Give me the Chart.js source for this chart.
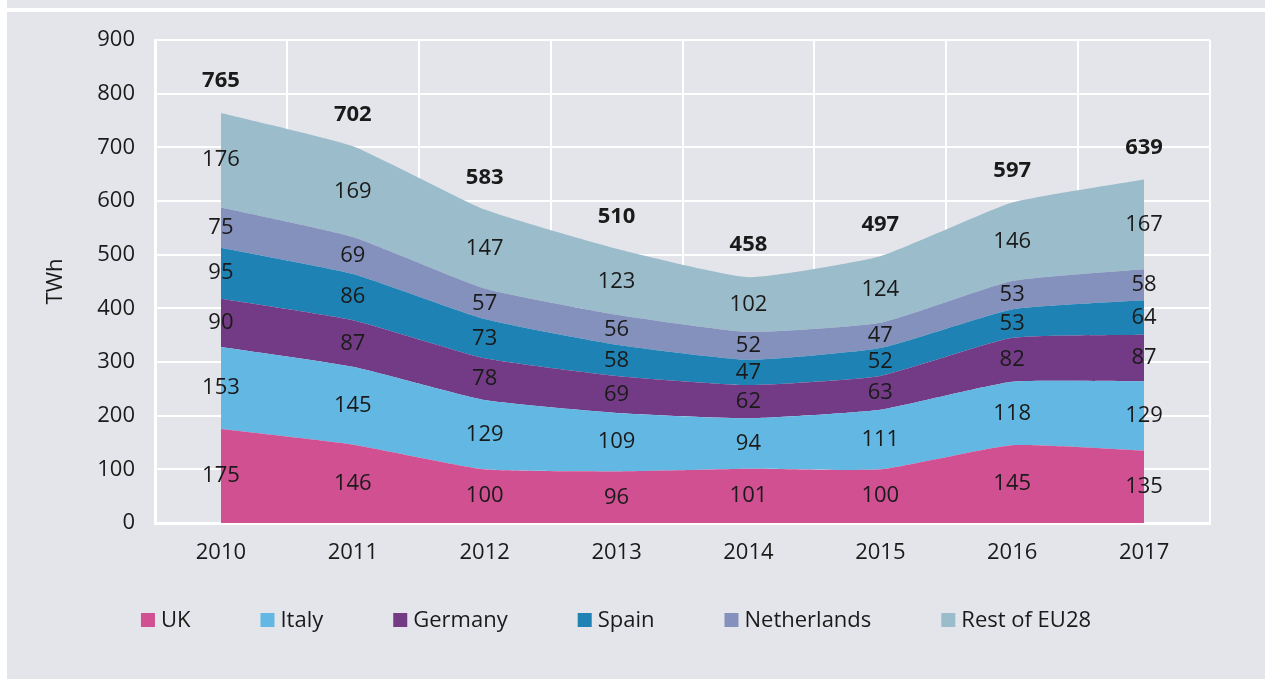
<!DOCTYPE html>
<html>
<head>
<meta charset="utf-8">
<script src="https://cdn.jsdelivr.net/npm/chart.js@4.4.0/dist/chart.umd.min.js"></script>
<style>
  html, body { margin: 0; padding: 0; background: #ffffff; }
  #panel { position: absolute; left: 7px; top: 0; width: 1258px; height: 679px; background: #e4e5ea; }
  #rule { position: absolute; left: 7px; top: 8px; width: 1258px; height: 4px; background: #ffffff; }
  #wrap { position: absolute; left: 0; top: 0; width: 1265px; height: 679px; }
</style>
</head>
<body>
<div id="panel"></div>
<div id="rule"></div>
<div id="wrap"><canvas id="gen-chart"></canvas></div>
<script>
const years = ["2010", "2011", "2012", "2013", "2014", "2015", "2016", "2017"];
const uk = [175, 146, 100, 96, 101, 100, 145, 135];
const italy = [153, 145, 129, 109, 94, 111, 118, 129];
const germany = [90, 87, 78, 69, 62, 63, 82, 87];
const spain = [95, 86, 73, 58, 47, 52, 53, 64];
const netherlands = [75, 69, 57, 56, 52, 47, 53, 58];
const restEU = [176, 169, 147, 123, 102, 124, 146, 167];
const totals = [765, 702, 583, 510, 458, 497, 597, 639];
const yTicks = [0, 100, 200, 300, 400, 500, 600, 700, 800, 900];

const textColor = "#1a1a1a";
const fontFamily = '"Open Sans", sans-serif';

function area(label, values, color, fill) {
  return {
    label: label,
    data: values,
    backgroundColor: color,
    borderColor: color,
    borderWidth: 0,
    pointRadius: 0,
    tension: 0.15,
    fill: fill,
  };
}

// numbers inside each band, and the bold totals on top
const bandLabels = {
  id: "bandLabels",
  afterDatasetsDraw(chart) {
    const ctx = chart.ctx;
    const y = chart.scales.y;
    ctx.save();
    ctx.textAlign = "center";
    ctx.textBaseline = "middle";
    ctx.fillStyle = textColor;
    ctx.font = "22px " + fontFamily;
    chart.data.datasets.forEach((ds, i) => {
      const meta = chart.getDatasetMeta(i);
      meta.data.forEach((pt, j) => {
        const base = i === 0 ? y.getPixelForValue(0) : chart.getDatasetMeta(i - 1).data[j].y;
        ctx.fillText(ds.data[j], pt.x, (pt.y + base) / 2);
      });
    });
    ctx.font = "bold 22px " + fontFamily;
    const topMeta = chart.getDatasetMeta(chart.data.datasets.length - 1);
    topMeta.data.forEach((pt, j) => {
      ctx.fillText(totals[j], pt.x, pt.y - 32);
    });
    ctx.restore();
  },
};

// legend row under the axis: small square, then the name, wide gaps
const legendRow = {
  id: "legendRow",
  afterDraw(chart) {
    const ctx = chart.ctx;
    const box = 14, gap = 6, spacing = 70, rowY = 620, centerX = 616;
    ctx.save();
    ctx.font = "22px " + fontFamily;
    ctx.textBaseline = "middle";
    ctx.textAlign = "left";
    const items = chart.data.datasets.map((ds) => ({
      text: ds.label,
      color: ds.backgroundColor,
      w: box + gap + ctx.measureText(ds.label).width,
    }));
    const total = items.reduce((a, it) => a + it.w, 0) + spacing * (items.length - 1);
    let x = centerX - total / 2;
    items.forEach((it) => {
      ctx.fillStyle = it.color;
      ctx.fillRect(x, rowY - box / 2, box, box);
      ctx.fillStyle = textColor;
      ctx.fillText(it.text, x + box + gap, rowY + 1);
      x += it.w + spacing;
    });
    ctx.restore();
  },
};

const ctx = document.getElementById("gen-chart").getContext("2d");
new Chart(ctx, {
  type: "line",
  data: {
    labels: years,
    datasets: [
      area("UK", uk, "#d05091", "origin"),
      area("Italy", italy, "#62b8e3", "-1"),
      area("Germany", germany, "#733b85", "-1"),
      area("Spain", spain, "#1e83b4", "-1"),
      area("Netherlands", netherlands, "#8591bd", "-1"),
      area("Rest of EU28", restEU, "#9bbccb", "-1"),
    ],
  },
  options: {
    responsive: true,
    maintainAspectRatio: false,
    animation: false,
    layout: { padding: { left: 0, right: 55, top: 40, bottom: 0 } },
    plugins: {
      tooltip: { enabled: false },
      legend: { display: false },
    },
    scales: {
      x: {
        offset: true,
        grid: { offset: true, color: "#ffffff", lineWidth: 2, drawTicks: false },
        border: { color: "#ffffff", width: 3 },
        ticks: { color: textColor, font: { family: fontFamily, size: 22 }, padding: 17, maxRotation: 0 },
        afterFit: (s) => { s.height = 156; },
      },
      y: {
        stacked: true,
        min: 0,
        max: 900,
        afterBuildTicks: (s) => { s.ticks = yTicks.map((v) => ({ value: v })); },
        grid: { color: "#ffffff", lineWidth: 2, drawTicks: false },
        border: { color: "#ffffff", width: 3 },
        ticks: { color: textColor, font: { family: fontFamily, size: 22 }, padding: 20 },
        title: {
          display: true,
          text: "TWh",
          color: textColor,
          font: { family: fontFamily, size: 22 },
          padding: { top: 43, bottom: 0 },
        },
        afterFit: (s) => { s.width = 155; },
      },
    },
  },
  plugins: [bandLabels, legendRow],
});
</script>
</body>
</html>
